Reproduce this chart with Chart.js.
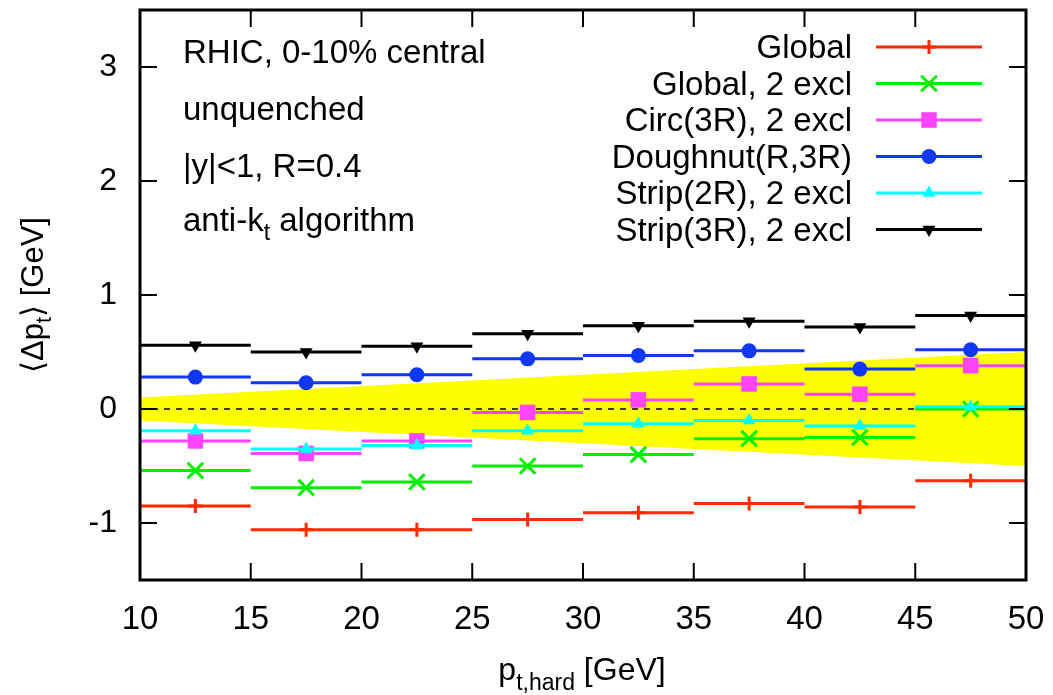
<!DOCTYPE html>
<html>
<head>
<meta charset="utf-8">
<script src="https://cdn.jsdelivr.net/npm/chart.js@4/dist/chart.umd.min.js"></script>
<style>
  body { margin: 0; background: #fff; }
  #wrap { width: 1053px; height: 695px; position: relative; }
</style>
</head>
<body>
<div id="wrap"><canvas id="deltaChart"></canvas></div>
<script>
// bins in p_t,hard
const binLo = [10, 15, 20, 25, 30, 35, 40, 45];
const binHi = [15, 20, 25, 30, 35, 40, 45, 50];
const binCenters = [12.5, 17.5, 22.5, 27.5, 32.5, 37.5, 42.5, 47.5];

// <Δpt> values per background estimator
const globalVals   = [-0.85, -1.06, -1.06, -0.97, -0.91, -0.83, -0.86, -0.63];
const global2Vals  = [-0.54, -0.69, -0.64, -0.50, -0.40, -0.26, -0.25, 0.00];
const circVals     = [-0.28, -0.39, -0.28, -0.03, 0.08, 0.22, 0.13, 0.38];
const doughnutVals = [0.28, 0.23, 0.30, 0.44, 0.47, 0.51, 0.35, 0.52];
const strip2Vals   = [-0.19, -0.35, -0.32, -0.19, -0.13, -0.10, -0.15, 0.02];
const strip3Vals   = [0.56, 0.50, 0.55, 0.66, 0.73, 0.77, 0.72, 0.82];

// yellow band
const bandX = [10, 50];
const bandUpper = [0.1, 0.5];
const bandLower = [-0.1, -0.5];

const xTicks = [10, 15, 20, 25, 30, 35, 40, 45, 50];
const yTicks = [-1, 0, 1, 2, 3];

const FONT = '"Liberation Sans", Arial, Helvetica, sans-serif';

const series = [
    { label: 'Global', vals: globalVals, color: '#ff2a00', style: 'cross', r: 7, rot: 0, order: 6 },
    { label: 'Global, 2 excl', vals: global2Vals, color: '#00ee00', style: 'crossRot', r: 11, rot: 0, order: 5 },
    { label: 'Circ(3R), 2 excl', vals: circVals, color: '#ff44ff', style: 'rect', r: 11, rot: 0, order: 4 },
    { label: 'Doughnut(R,3R)', vals: doughnutVals, color: '#1038f0', style: 'circle', r: 7.5, rot: 0, order: 3 },
    { label: 'Strip(2R), 2 excl', vals: strip2Vals, color: '#00ffff', style: 'triangle', r: 7.5, rot: 0, order: 2 },
    { label: 'Strip(3R), 2 excl', vals: strip3Vals, color: '#000000', style: 'triangle', r: 7.5, rot: 180, order: 1 }
];

// horizontal bin bars with a marker in the middle, null breaks the line
function binPoints(vals) {
    const pts = [];
    vals.forEach((v, i) => {
        pts.push({ x: binLo[i], y: v });
        pts.push({ x: binCenters[i], y: v });
        pts.push({ x: binHi[i], y: v });
        pts.push({ x: binHi[i], y: null });
    });
    return pts;
}

const datasets = series.map(s => ({
    label: s.label,
    data: binPoints(s.vals),
    borderColor: s.color,
    backgroundColor: s.color,
    borderWidth: 3,
    pointStyle: s.style,
    pointRotation: s.rot,
    pointRadius: ctx => (ctx.dataIndex % 4 === 1 ? s.r : 0),
    pointBorderWidth: (s.style === 'cross' || s.style === 'crossRot') ? 3 : 0,
    pointBorderColor: s.color,
    pointBackgroundColor: s.color,
    spanGaps: false,
    fill: false,
    order: s.order
}));

datasets.push({
    label: 'band upper',
    data: bandX.map((x, i) => ({ x, y: bandUpper[i] })),
    borderWidth: 0,
    pointRadius: 0,
    backgroundColor: '#ffff00',
    fill: '+1',
    order: 100
});
datasets.push({
    label: 'band lower',
    data: bandX.map((x, i) => ({ x, y: bandLower[i] })),
    borderWidth: 0,
    pointRadius: 0,
    fill: false,
    order: 101
});
datasets.push({
    label: 'zero',
    data: [{ x: 10, y: 0 }, { x: 50, y: 0 }],
    borderColor: '#000',
    borderWidth: 1.5,
    borderDash: [6, 6],
    pointRadius: 0,
    fill: false,
    order: 90
});

function drawParts(ctx, parts, x, y, align) {
    let total = 0;
    parts.forEach(p => {
        ctx.font = p.size + 'px ' + FONT;
        p.w = ctx.measureText(p.t).width;
        total += p.w;
    });
    let cx = align === 'center' ? x - total / 2 : (align === 'right' ? x - total : x);
    ctx.textAlign = 'left';
    ctx.textBaseline = 'alphabetic';
    parts.forEach(p => {
        ctx.font = p.size + 'px ' + FONT;
        ctx.fillText(p.t, cx, y + (p.dy || 0));
        cx += p.w;
    });
}

const deco = {
    id: 'deco',
    afterDatasetsDraw(chart) {
        const ctx = chart.ctx;
        const a = chart.chartArea;
        const xs = chart.scales.x, ys = chart.scales.y;
        ctx.save();
        ctx.strokeStyle = '#000';
        ctx.lineWidth = 2;
        const tl = 17;
        ctx.beginPath();
        xTicks.forEach(v => {
            const px = xs.getPixelForValue(v);
            ctx.moveTo(px, a.bottom); ctx.lineTo(px, a.bottom - tl);
            ctx.moveTo(px, a.top); ctx.lineTo(px, a.top + tl);
        });
        yTicks.forEach(v => {
            const py = ys.getPixelForValue(v);
            ctx.moveTo(a.left, py); ctx.lineTo(a.left + tl, py);
            ctx.moveTo(a.right, py); ctx.lineTo(a.right - tl, py);
        });
        ctx.stroke();
        ctx.lineWidth = 3;
        ctx.strokeRect(a.left, a.top, a.right - a.left, a.bottom - a.top);
        ctx.restore();
    },
    afterDraw(chart) {
        const ctx = chart.ctx;
        ctx.save();
        ctx.fillStyle = '#000';

        // annotation block
        drawParts(ctx, [{ t: 'RHIC, 0-10% central', size: 33 }], 183, 63, 'left');
        drawParts(ctx, [{ t: 'unquenched', size: 33 }], 183, 120, 'left');
        drawParts(ctx, [{ t: '|y|<1, R=0.4', size: 33 }], 183, 177, 'left');
        drawParts(ctx, [{ t: 'anti-k', size: 33 }, { t: 't', size: 23, dy: 9 }, { t: ' algorithm', size: 33 }], 183, 231, 'left');

        // legend
        series.forEach((s, i) => {
            const by = 58 + i * 36.5;
            const cy = by - 11;
            ctx.fillStyle = '#000';
            drawParts(ctx, [{ t: s.label, size: 33 }], 852, by, 'right');
            ctx.strokeStyle = s.color;
            ctx.lineWidth = 3;
            ctx.beginPath();
            ctx.moveTo(876, cy); ctx.lineTo(982, cy);
            ctx.stroke();
            ctx.fillStyle = s.color;
            const isCross = s.style === 'cross' || s.style === 'crossRot';
            Chart.helpers.drawPoint(ctx, {
                pointStyle: s.style,
                radius: s.r,
                rotation: s.rot,
                borderWidth: isCross ? 3 : 0
            }, 929, cy);
        });

        // axis titles
        ctx.fillStyle = '#000';
        drawParts(ctx, [{ t: 'p', size: 32 }, { t: 't,hard', size: 23, dy: 10 }, { t: ' [GeV]', size: 32 }], 582, 680, 'center');

        ctx.translate(43, 295);
        ctx.rotate(-Math.PI / 2);
        drawParts(ctx, [{ t: '\u27E8\u0394p', size: 31 }, { t: 't', size: 22, dy: 8 }, { t: '\u27E9 [GeV]', size: 31 }], 0, 0, 'center');
        ctx.restore();
    }
};

function noPad(s) {
    s.paddingTop = 0; s.paddingBottom = 0;
    s.paddingLeft = 0; s.paddingRight = 0;
}

const ctx = document.getElementById('deltaChart').getContext('2d');
new Chart(ctx, {
    type: 'line',
    data: { datasets },
    options: {
        responsive: true,
        maintainAspectRatio: false,
        animation: false,
        events: [],
        layout: { padding: { top: 10, right: 27, left: 0, bottom: 0 } },
        plugins: { legend: { display: false }, tooltip: { enabled: false } },
        scales: {
            x: {
                type: 'linear',
                min: 10,
                max: 50,
                afterBuildTicks: s => { s.ticks = xTicks.map(v => ({ value: v })); },
                afterFit: s => { s.height = 115; noPad(s); },
                grid: { display: false, drawTicks: false },
                border: { display: false },
                ticks: { color: '#000', padding: 20, font: { size: 33, family: FONT } }
            },
            y: {
                type: 'linear',
                min: -1.5,
                max: 3.5,
                afterBuildTicks: s => { s.ticks = yTicks.map(v => ({ value: v })); },
                afterFit: s => { s.width = 140; noPad(s); },
                grid: { display: false, drawTicks: false },
                border: { display: false },
                ticks: { color: '#000', padding: 23, font: { size: 32, family: FONT } }
            }
        }
    },
    plugins: [deco]
});
</script>
</body>
</html>
